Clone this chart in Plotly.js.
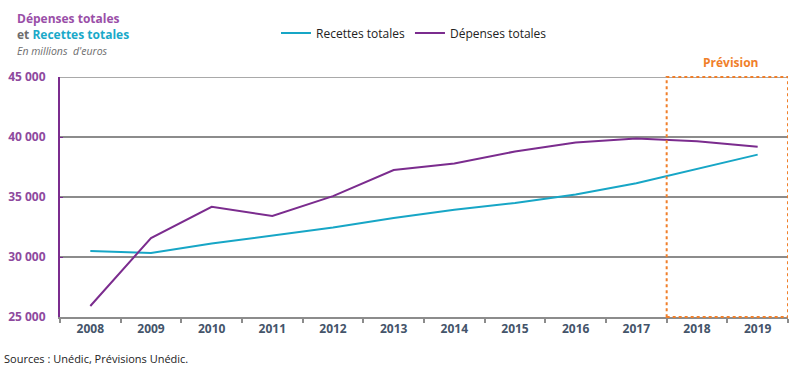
<!DOCTYPE html>
<html>
<head>
<meta charset="utf-8">
<script src="https://cdn.plot.ly/plotly-3.0.1.min.js"></script>
<style>html,body{margin:0;padding:0;background:#fff;}#chart{width:800px;height:375px;}</style>
</head>
<body>
<div id="chart"></div>
<script>
var years = ['2008','2009','2010','2011','2012','2013','2014','2015','2016','2017','2018','2019'];
var recettes = [30500, 30330, 31120, 31760, 32460, 33250, 33940, 34500, 35200, 36150, 37350, 38530];
var depenses = [25920, 31580, 34180, 33420, 35070, 37250, 37800, 38790, 39540, 39880, 39640, 39190];
var yTicks = [25000, 30000, 35000, 40000, 45000];

var purple = '#7b2c8e';
var teal = '#17a6c6';
var fontFam = 'Open Sans, Liberation Sans, sans-serif';

var traces = [
  {x: years, y: recettes, type: 'scatter', mode: 'lines', name: 'Recettes totales',
   line: {color: teal, width: 2}},
  {x: years, y: depenses, type: 'scatter', mode: 'lines', name: 'Dépenses totales',
   line: {color: purple, width: 2}}
];

var layout = {
  width: 800, height: 375,
  margin: {l: 60, r: 12, t: 77, b: 58, autoexpand: false},
  paper_bgcolor: '#fff', plot_bgcolor: '#fff',
  separators: ', ',
  font: {family: fontFam, color: '#222'},
  showlegend: true,
  legend: {orientation: 'h', x: (414-60)/728, xanchor: 'center', y: (317-33)/240, yanchor: 'middle',
           font: {size: 12, color: '#222'}, itemwidth: 30, tracegroupgap: 0},
  xaxis: {
    type: 'category', range: [-0.5, 11.5], showgrid: false,
    showline: true, linecolor: '#8c8c8c', linewidth: 2,
    ticks: 'outside', ticklen: 4, tickcolor: '#8c8c8c', tickwidth: 2, tickson: 'boundaries',
    tickfont: {size: 12, color: '#44546a', family: fontFam, weight: 'bold'},
    fixedrange: true, zeroline: false
  },
  yaxis: {
    range: [25000, 45000], tickvals: yTicks, tickformat: ',d',
    showgrid: true, gridcolor: '#8c8c8c', gridwidth: 1.5,
    showline: true, linecolor: purple, linewidth: 2,
    ticks: 'inside', ticklen: 3, tickcolor: purple,
    tickfont: {size: 12, color: '#8e4a9e', family: fontFam, weight: 'bold'},
    ticklabelstandoff: 10,
    zeroline: false, fixedrange: true
  },
  shapes: [
    {type: 'line', xref: 'paper', yref: 'y', x0: 0, x1: 1, y0: 45000, y1: 45000, layer: 'below',
     line: {color: '#8c8c8c', width: 1.5}},
    {type: 'rect', xref: 'x', yref: 'paper', x0: 9.5, x1: 11.5, y0: 0, y1: 1,
     line: {color: '#f07f2a', width: 2, dash: 'dot'}, fillcolor: 'rgba(0,0,0,0)'}
  ],
  annotations: [
    {xref: 'paper', yref: 'paper', x: (731-60)/728, y: (317-62)/240, xanchor: 'center', yanchor: 'middle',
     text: '<b>Prévision</b>', showarrow: false, font: {size: 12, color: '#f07f2a', family: fontFam}},
    {xref: 'paper', yref: 'paper', x: (15-60)/728, y: (317-18)/240, xanchor: 'left', yanchor: 'middle',
     text: '<b>Dépenses totales</b>', showarrow: false, font: {size: 12, color: '#9a4fa8', family: fontFam}},
    {xref: 'paper', yref: 'paper', x: (15-60)/728, y: (317-35)/240, xanchor: 'left', yanchor: 'middle',
     text: '<b><span style="color:#6d6d6d">et</span> Recettes totales</b>', showarrow: false,
     font: {size: 12, color: '#1aa9c9', family: fontFam}},
    {xref: 'paper', yref: 'paper', x: (15-60)/728, y: (317-51)/240, xanchor: 'left', yanchor: 'middle',
     text: '<i>En millions  d\'euros</i>', showarrow: false, font: {size: 10.5, color: '#6d6d6d', family: fontFam}},
    {xref: 'paper', yref: 'paper', x: (2-60)/728, y: (317-358)/240, xanchor: 'left', yanchor: 'middle',
     text: 'Sources : Unédic, Prévisions Unédic.', showarrow: false, font: {size: 11, color: '#222', family: fontFam}}
  ]
};

Plotly.newPlot('chart', traces, layout, {displayModeBar: false, staticPlot: true});
</script>
</body>
</html>
